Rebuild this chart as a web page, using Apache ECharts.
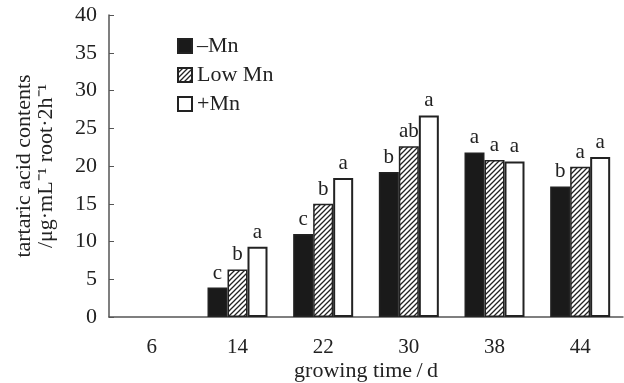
<!DOCTYPE html>
<html>
<head>
<meta charset="utf-8">
<script src="https://cdn.jsdelivr.net/npm/echarts@6/dist/echarts.min.js"></script>
<style>
  html, body { margin: 0; padding: 0; background: #fff; }
  #chart { width: 624px; height: 383px; }
</style>
</head>
<body>
<div id="chart"></div>
<script>
// 数据
var days = ['6', '14', '22', '30', '38', '44'];
var minusMn = ['-', 3.9, 11.0, 19.2, 21.8, 17.3];
var lowMn = ['-', 6.3, 15.0, 22.6, 20.8, 19.9];
var plusMn = ['-', 9.3, 18.4, 26.7, 20.6, 21.2];
// 显著性字母
var minusLetters = ['', 'c', 'c', 'b', 'a', 'b'];
var lowLetters = ['', 'b', 'b', 'ab', 'a', 'a'];
var plusLetters = ['', 'a', 'a', 'a', 'a', 'a'];
var yTicks = [0, 5, 10, 15, 20, 25, 30, 35, 40];

var font = 'Liberation Serif';

// 斜线填充
var hatch = document.createElement('canvas');
hatch.width = 5;
hatch.height = 5;
var ctx = hatch.getContext('2d');
ctx.fillStyle = '#fff';
ctx.fillRect(0, 0, 5, 5);
ctx.strokeStyle = '#222';
ctx.lineWidth = 1.3;
ctx.beginPath();
ctx.moveTo(0, 5); ctx.lineTo(5, 0);
ctx.moveTo(-1, 1); ctx.lineTo(1, -1);
ctx.moveTo(4, 6); ctx.lineTo(6, 4);
ctx.stroke();

var chart = echarts.init(document.getElementById('chart'));

function labelOf(letters) {
  return {
    show: true,
    position: 'top',
    distance: 4,
    fontFamily: font,
    fontSize: 21,
    color: '#222',
    formatter: function (p) { return letters[p.dataIndex]; }
  };
}

var option = {
  animation: false,
  backgroundColor: '#fff',
  textStyle: { fontFamily: font },
  grid: { left: 109, right: 1, top: 15, bottom: 66, outerBoundsMode: 'none' },
  legend: {
    orient: 'vertical',
    left: 172,
    top: 30,
    icon: 'rect',
    itemWidth: 14,
    itemHeight: 14,
    itemGap: 7,
    textStyle: { fontFamily: font, fontSize: 22, color: '#222' },
    data: ['–Mn', 'Low Mn', '+Mn']
  },
  xAxis: {
    type: 'category',
    data: days,
    name: 'growing time\u2009/\u2009d',
    nameLocation: 'middle',
    nameGap: 43,
    nameMoveOverlap: false,
    nameTextStyle: { fontFamily: font, fontSize: 22, color: '#222' },
    axisLine: { lineStyle: { color: '#555', width: 1.5 } },
    axisTick: { inside: true, length: 5, lineStyle: { color: '#555' } },
    axisLabel: { fontFamily: font, fontSize: 21, color: '#222', margin: 20 }
  },
  yAxis: {
    type: 'value',
    min: 0,
    max: 40,
    interval: 5,
    name: 'tartaric acid contents\n/μg·mL⁻¹ root·2h⁻¹',
    nameLocation: 'middle',
    nameRotate: 90,
    nameGap: 52,
    nameMoveOverlap: false,
    nameTextStyle: { fontFamily: font, fontSize: 22, color: '#222', lineHeight: 22 },
    axisLine: { show: true, lineStyle: { color: '#555', width: 1.5 } },
    axisTick: { show: true, inside: true, length: 5, lineStyle: { color: '#555' } },
    axisLabel: {
      fontFamily: font, fontSize: 22, color: '#222', margin: 12,
      formatter: function (v) { return yTicks.indexOf(v) >= 0 ? String(v) : ''; }
    },
    splitLine: { show: false }
  },
  series: [
    {
      name: '–Mn',
      type: 'bar',
      data: minusMn,
      barWidth: 20,
      barGap: '0%',
      itemStyle: { color: '#1a1a1a', borderColor: '#222', borderWidth: 1.5 },
      label: labelOf(minusLetters)
    },
    {
      name: 'Low Mn',
      type: 'bar',
      data: lowMn,
      barWidth: 20,
      barGap: '0%',
      itemStyle: { color: { image: hatch, repeat: 'repeat' }, borderColor: '#222', borderWidth: 1.5 },
      label: labelOf(lowLetters)
    },
    {
      name: '+Mn',
      type: 'bar',
      data: plusMn,
      barWidth: 20,
      barGap: '0%',
      itemStyle: { color: '#fff', borderColor: '#222', borderWidth: 2 },
      label: labelOf(plusLetters)
    }
  ]
};

chart.setOption(option);
</script>
</body>
</html>
